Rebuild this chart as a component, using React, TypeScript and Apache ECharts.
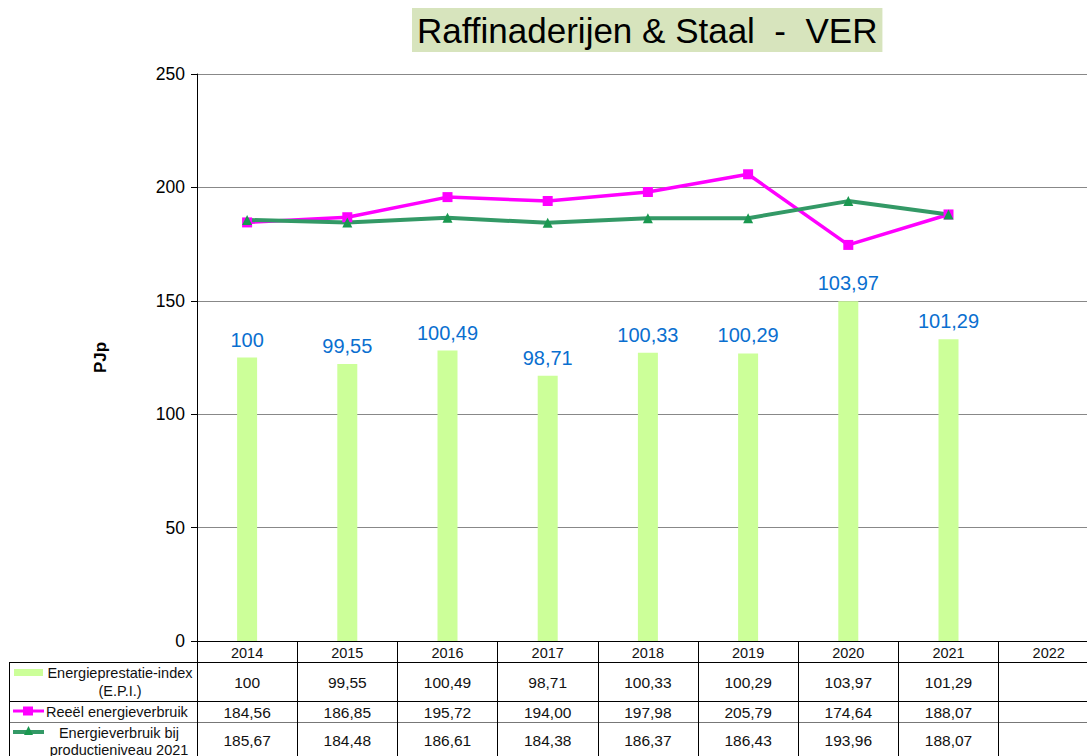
import React, { useEffect, useRef } from "react";
import * as echarts from "echarts";

const years = ["2014", "2015", "2016", "2017", "2018", "2019", "2020", "2021", "2022"];
const epi = [100, 99.55, 100.49, 98.71, 100.33, 100.29, 103.97, 101.29, null];
const reeel = [184.56, 186.85, 195.72, 194.0, 197.98, 205.79, 174.64, 188.07, null];
const productie = [185.67, 184.48, 186.61, 184.38, 186.37, 186.43, 193.96, 188.07, null];
const yTicks = [0, 50, 100, 150, 200, 250];

const seriesNames = ["Energieprestatie-index (E.P.I.)", "Reeël energieverbruik", "Energieverbruik bij productieniveau 2021"];

const fmt = (v: number | null, d: number) =>
  v == null ? "" : (d === 0 && Number.isInteger(v) ? String(v) : v.toFixed(2)).replace(".", ",");

export default function App() {
  const ref = useRef<HTMLDivElement>(null);
  useEffect(() => {
    document.body.style.margin = "0";
    const chart = echarts.init(ref.current!, undefined, { renderer: "svg" });
    const L = 197, COL = 100.2, TOP = 74, AX = 641;
    const rows = [662, 701, 722, 760];
    const font = "Liberation Sans";
    const graphics: any[] = [];
    graphics.push({ type: "line", shape: { x1: 9, y1: rows[0] + 0.5, x2: 1087, y2: rows[0] + 0.5 }, style: { stroke: "#000", lineWidth: 1 } });
    graphics.push({ type: "line", shape: { x1: 9, y1: rows[1] + 0.5, x2: 1087, y2: rows[1] + 0.5 }, style: { stroke: "#000", lineWidth: 1 } });
    graphics.push({ type: "line", shape: { x1: 9, y1: rows[2] + 0.5, x2: 1087, y2: rows[2] + 0.5 }, style: { stroke: "#777", lineWidth: 1 } });
    graphics.push({ type: "line", shape: { x1: 9.5, y1: rows[0], x2: 9.5, y2: 756 }, style: { stroke: "#000", lineWidth: 1 } });
    const tableRows = [
      { vals: epi, dec: 0, y: (rows[0] + rows[1]) / 2 + 1 },
      { vals: reeel, dec: 2, y: (rows[1] + rows[2]) / 2 + 1 },
      { vals: productie, dec: 2, y: 740 },
    ];
    tableRows.forEach((r) => {
      r.vals.forEach((v, i) => {
        graphics.push({
          type: "text",
          x: L + COL * i + COL / 2,
          y: r.y,
          style: { text: fmt(v as any, r.dec === 0 && Number.isInteger(v) ? 0 : 2), fontSize: 15.5, fontFamily: font, fill: "#111", align: "center", verticalAlign: "middle" },
        });
      });
    });
    graphics.push({ type: "rect", shape: { x: 14, y: 669, width: 29, height: 7 }, style: { fill: "#ccff99" } });
    graphics.push({ type: "text", x: 120, y: 682, style: { text: "Energieprestatie-index\n(E.P.I.)", fontSize: 14.5, fontFamily: font, lineHeight: 18, fill: "#111", align: "center", verticalAlign: "middle" } });
    graphics.push({ type: "line", shape: { x1: 13, y1: 711, x2: 44, y2: 711 }, style: { stroke: "#ff00ff", lineWidth: 3 } });
    graphics.push({ type: "rect", shape: { x: 23, y: 706.5, width: 10, height: 9 }, style: { fill: "#ff00ff" } });
    graphics.push({ type: "text", x: 46, y: 712, style: { text: seriesNames[1], fontSize: 14.5, fontFamily: font, fill: "#111", align: "left", verticalAlign: "middle" } });
    graphics.push({ type: "line", shape: { x1: 13, y1: 732, x2: 44, y2: 732 }, style: { stroke: "#339966", lineWidth: 4 } });
    graphics.push({ type: "polygon", shape: { points: [[28.5, 726], [24, 735], [33, 735]] }, style: { fill: "#1a9850" } });
    graphics.push({ type: "text", x: 119, y: 741, style: { text: "Energieverbruik bij\nproductieniveau 2021", fontSize: 14.5, fontFamily: font, lineHeight: 17, fill: "#111", align: "center", verticalAlign: "middle" } });

    chart.setOption({
      animation: false,
      backgroundColor: "#fff",
      title: {
        text: "Raffinaderijen & Staal  -  VER",
        left: 412,
        top: 8,
        backgroundColor: "#d7e4bd",
        padding: [2, 5, 2, 5],
        textStyle: { fontFamily: font, fontSize: 35, fontWeight: "normal", color: "#000", lineHeight: 40 },
      },
      grid: { left: L, top: TOP, width: COL * 9, height: AX - TOP, outerBoundsMode: "none", containLabel: false },
      xAxis: {
        type: "category",
        data: years,
        boundaryGap: true,
        axisLine: { lineStyle: { color: "#000", width: 1 } },
        axisTick: { show: true, interval: 0, length: 120, lineStyle: { color: "#000" } },
        axisLabel: { interval: 0, fontFamily: font, fontSize: 14.5, color: "#111", margin: 4 },
      },
      yAxis: [
        {
          type: "value",
          min: 0,
          max: 250,
          interval: 50,
          name: "PJp",
          nameLocation: "middle",
          nameGap: 88,
          nameTextStyle: { fontFamily: font, fontSize: 17, fontWeight: "bold", color: "#000" },
          axisLine: { show: true, lineStyle: { color: "#000" } },
          axisTick: { show: true, length: 6, lineStyle: { color: "#000" } },
          axisLabel: { fontFamily: font, fontSize: 17.5, color: "#000", margin: 12, formatter: (v: number) => (yTicks.includes(v) ? String(v) : "") },
          splitLine: { lineStyle: { color: "#888", width: 1 } },
        },
        { type: "value", min: 80, max: 120, show: false, splitLine: { show: false } },
      ],
      series: [
        {
          name: seriesNames[0],
          type: "bar",
          yAxisIndex: 1,
          data: epi,
          barWidth: 20,
          itemStyle: { color: "#ccff99" },
          label: {
            show: true,
            position: "top",
            distance: 8,
            fontFamily: font,
            fontSize: 20,
            color: "#0a6fd0",
            formatter: (p: any) => fmt(p.value, Number.isInteger(p.value) ? 0 : 2),
          },
        },
        {
          name: seriesNames[1],
          type: "line",
          data: reeel,
          symbol: "rect",
          symbolSize: 10,
          lineStyle: { color: "#ff00ff", width: 3.5 },
          itemStyle: { color: "#ff00ff" },
        },
        {
          name: seriesNames[2],
          type: "line",
          data: productie,
          symbol: "triangle",
          symbolSize: 10,
          lineStyle: { color: "#339966", width: 4 },
          itemStyle: { color: "#1a9850" },
          z: 3,
        },
      ],
      graphic: graphics,
    });
    return () => chart.dispose();
  }, []);
  return <div ref={ref} style={{ width: 1087, height: 756 }} />;
}
